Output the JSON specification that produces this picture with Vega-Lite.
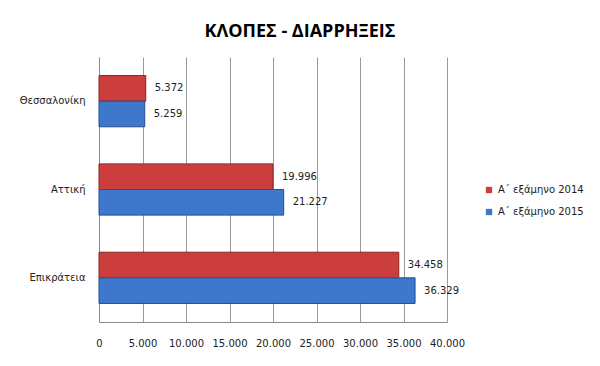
{
  "$schema": "https://vega.github.io/schema/vega-lite/v6.json",
  "autosize": {"type": "none"},
  "width": 348,
  "height": 265,
  "padding": {"left": 99, "top": 57, "right": 153, "bottom": 44},
  "background": "white",
  "title": {
    "text": "ΚΛΟΠΕΣ - ΔΙΑΡΡΗΞΕΙΣ",
    "font": "Open Sans",
    "fontSize": 18,
    "fontWeight": "bold",
    "color": "#000000",
    "anchor": "middle",
    "dx": 27,
    "offset": 16
  },
  "config": {
    "view": {"stroke": null},
    "locale": {"number": {"decimal": ",", "thousands": ".", "grouping": [3], "currency": ["", " €"]}},
    "axis": {"labelFont": "DejaVu Sans", "labelFontSize": 10, "labelColor": "#222222"},
    "legend": {"labelFont": "DejaVu Sans", "labelFontSize": 10, "labelColor": "#222222"}
  },
  "data": {
    "values": [
      {"region": "Θεσσαλονίκη", "period": "Α΄ εξάμηνο 2014", "value": 5372},
      {"region": "Θεσσαλονίκη", "period": "Α΄ εξάμηνο 2015", "value": 5259},
      {"region": "Αττική", "period": "Α΄ εξάμηνο 2014", "value": 19996},
      {"region": "Αττική", "period": "Α΄ εξάμηνο 2015", "value": 21227},
      {"region": "Επικράτεια", "period": "Α΄ εξάμηνο 2014", "value": 34458},
      {"region": "Επικράτεια", "period": "Α΄ εξάμηνο 2015", "value": 36329}
    ]
  },
  "encoding": {
    "y": {
      "field": "region",
      "type": "nominal",
      "sort": ["Θεσσαλονίκη", "Αττική", "Επικράτεια"],
      "scale": {"paddingInner": 0.42, "paddingOuter": 0.21},
      "axis": {"title": null, "ticks": false, "labelPadding": 14, "domain": true, "domainColor": "#8a8a8a"}
    },
    "yOffset": {
      "field": "period",
      "type": "nominal",
      "sort": ["Α΄ εξάμηνο 2014", "Α΄ εξάμηνο 2015"]
    },
    "x": {
      "field": "value",
      "type": "quantitative",
      "scale": {"domain": [0, 40000], "nice": false},
      "axis": {
        "title": null,
        "values": [0, 5000, 10000, 15000, 20000, 25000, 30000, 35000, 40000],
        "format": ",d",
        "ticks": false,
        "labelPadding": 16,
        "labelOverlap": false,
        "labelFlush": false,
        "domain": true,
        "domainColor": "#8a8a8a",
        "grid": true,
        "gridColor": "#9a9a9a",
        "gridOpacity": 1
      }
    }
  },
  "layer": [
    {
      "mark": {"type": "bar", "strokeWidth": 1},
      "encoding": {
        "color": {
          "field": "period",
          "type": "nominal",
          "scale": {"domain": ["Α΄ εξάμηνο 2014", "Α΄ εξάμηνο 2015"], "range": ["#cc3d3d", "#3d78cc"]},
          "legend": {
            "title": null,
            "orient": "none",
            "legendX": 385,
            "legendY": 128,
            "symbolType": "square",
            "symbolSize": 40,
            "symbolStrokeWidth": 0,
            "rowPadding": 12,
            "labelOffset": 4,
            "padding": 0
          }
        },
        "stroke": {
          "field": "period",
          "type": "nominal",
          "scale": {"domain": ["Α΄ εξάμηνο 2014", "Α΄ εξάμηνο 2015"], "range": ["#8c2424", "#234f8f"]},
          "legend": null
        }
      }
    },
    {
      "mark": {"type": "text", "align": "left", "dx": 9, "font": "DejaVu Sans", "fontSize": 10, "color": "#222222"},
      "encoding": {
        "text": {"field": "value", "type": "quantitative", "format": ",d"}
      }
    }
  ]
}
